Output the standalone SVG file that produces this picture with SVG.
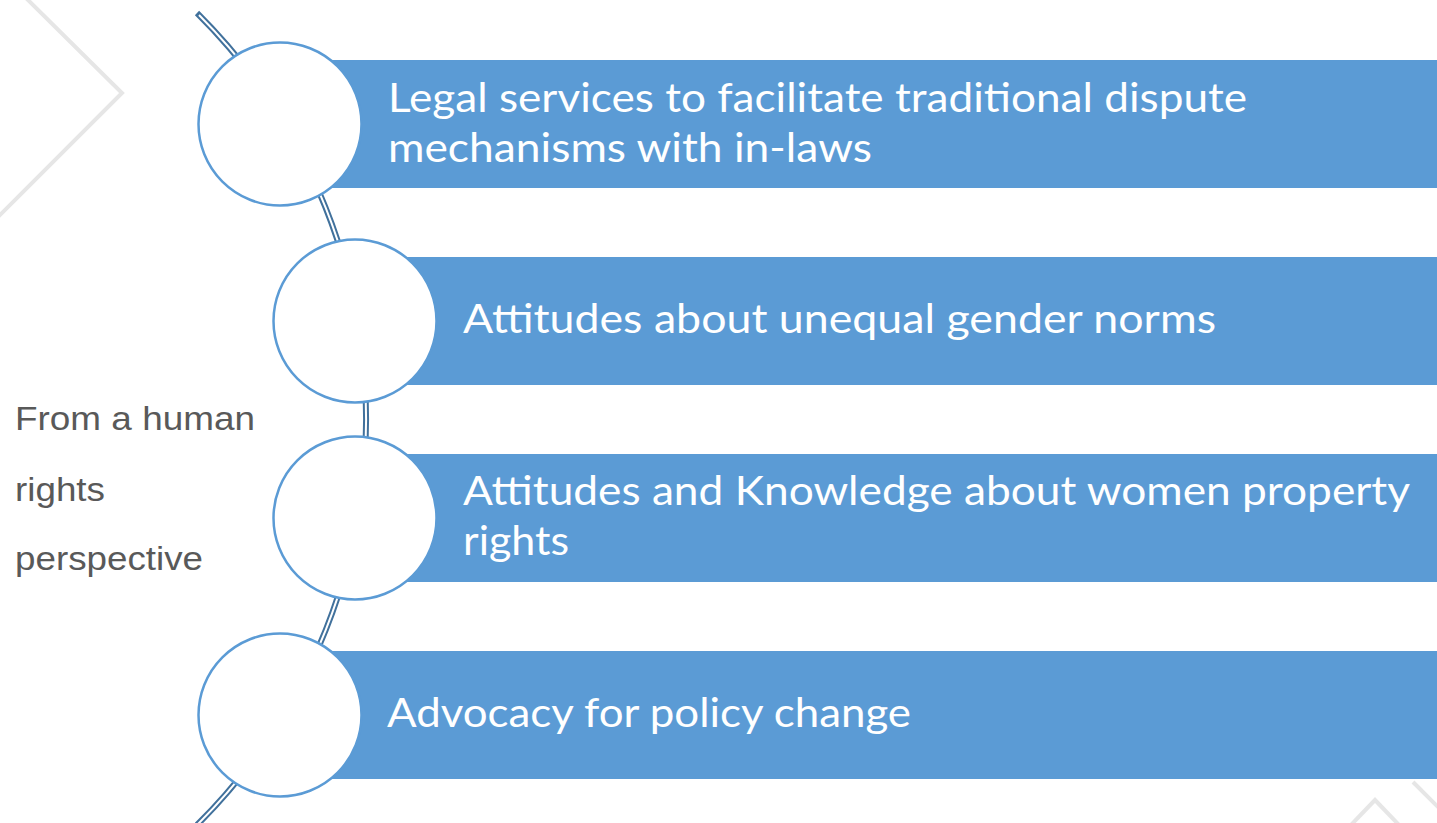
<svg xmlns="http://www.w3.org/2000/svg" width="1437" height="823" viewBox="0 0 1437 823">
  <style>
    .bg { fill: none; stroke: #e6e6e6; stroke-width: 4; }
    .bar { fill: #5b9bd5; }
    .circ { fill: #ffffff; stroke: #5b9bd5; stroke-width: 2.5; }
    .arc-o { fill: none; stroke: #41719c; stroke-width: 6; }
    .arc-i { fill: none; stroke: #ffffff; stroke-width: 2; }
    .lbl { font-family: Lato, "Open Sans", sans-serif; font-size: 41px; fill: #ffffff; }
    .side { font-family: "Liberation Sans", Arial, sans-serif; font-size: 33px; fill: #595959; }
  </style>
  <rect width="1437" height="823" fill="#ffffff"/>
  <g id="background">
    <polyline class="bg" points="26,-2 122,93 -2,217"/>
    <polyline class="bg" points="1350,826 1375,800 1400,826"/>
    <polyline class="bg" points="1413,782 1440,809"/>
  </g>
  <g id="connectors">
    <path class="arc-o" d="M 197 13 A 572 572 0 0 1 197 825"/>
    <path class="arc-i" d="M 199 15 A 572 572 0 0 1 197 825"/>
  </g>
  <g id="node1">
    <rect class="bar" x="280" y="60" width="1157" height="128"/>
    <circle class="circ" cx="280" cy="124" r="81.5"/>
    <text class="lbl" x="388" y="112" textLength="859" lengthAdjust="spacingAndGlyphs">Legal services to facilitate traditional dispute</text>
    <text class="lbl" x="388" y="162" textLength="484" lengthAdjust="spacingAndGlyphs">mechanisms with in-laws</text>
  </g>
  <g id="node2">
    <rect class="bar" x="355" y="257" width="1082" height="128"/>
    <circle class="circ" cx="355" cy="321" r="81.5"/>
    <text class="lbl" x="463" y="333" textLength="753" lengthAdjust="spacingAndGlyphs">Attitudes about unequal gender norms</text>
  </g>
  <g id="node3">
    <rect class="bar" x="355" y="454" width="1082" height="128"/>
    <circle class="circ" cx="355" cy="518" r="81.5"/>
    <text class="lbl" x="463" y="505" textLength="947" lengthAdjust="spacingAndGlyphs">Attitudes and Knowledge about women property</text>
    <text class="lbl" x="463" y="555" textLength="106" lengthAdjust="spacingAndGlyphs">rights</text>
  </g>
  <g id="node4">
    <rect class="bar" x="280" y="651" width="1157" height="128"/>
    <circle class="circ" cx="280" cy="715" r="81.5"/>
    <text class="lbl" x="387" y="727" textLength="524" lengthAdjust="spacingAndGlyphs">Advocacy for policy change</text>
  </g>
  <g id="side-label">
    <text class="side" x="15" y="430" textLength="240" lengthAdjust="spacingAndGlyphs">From a human</text>
    <text class="side" x="15" y="501" textLength="90" lengthAdjust="spacingAndGlyphs">rights</text>
    <text class="side" x="15" y="570" textLength="188" lengthAdjust="spacingAndGlyphs">perspective</text>
  </g>
</svg>
